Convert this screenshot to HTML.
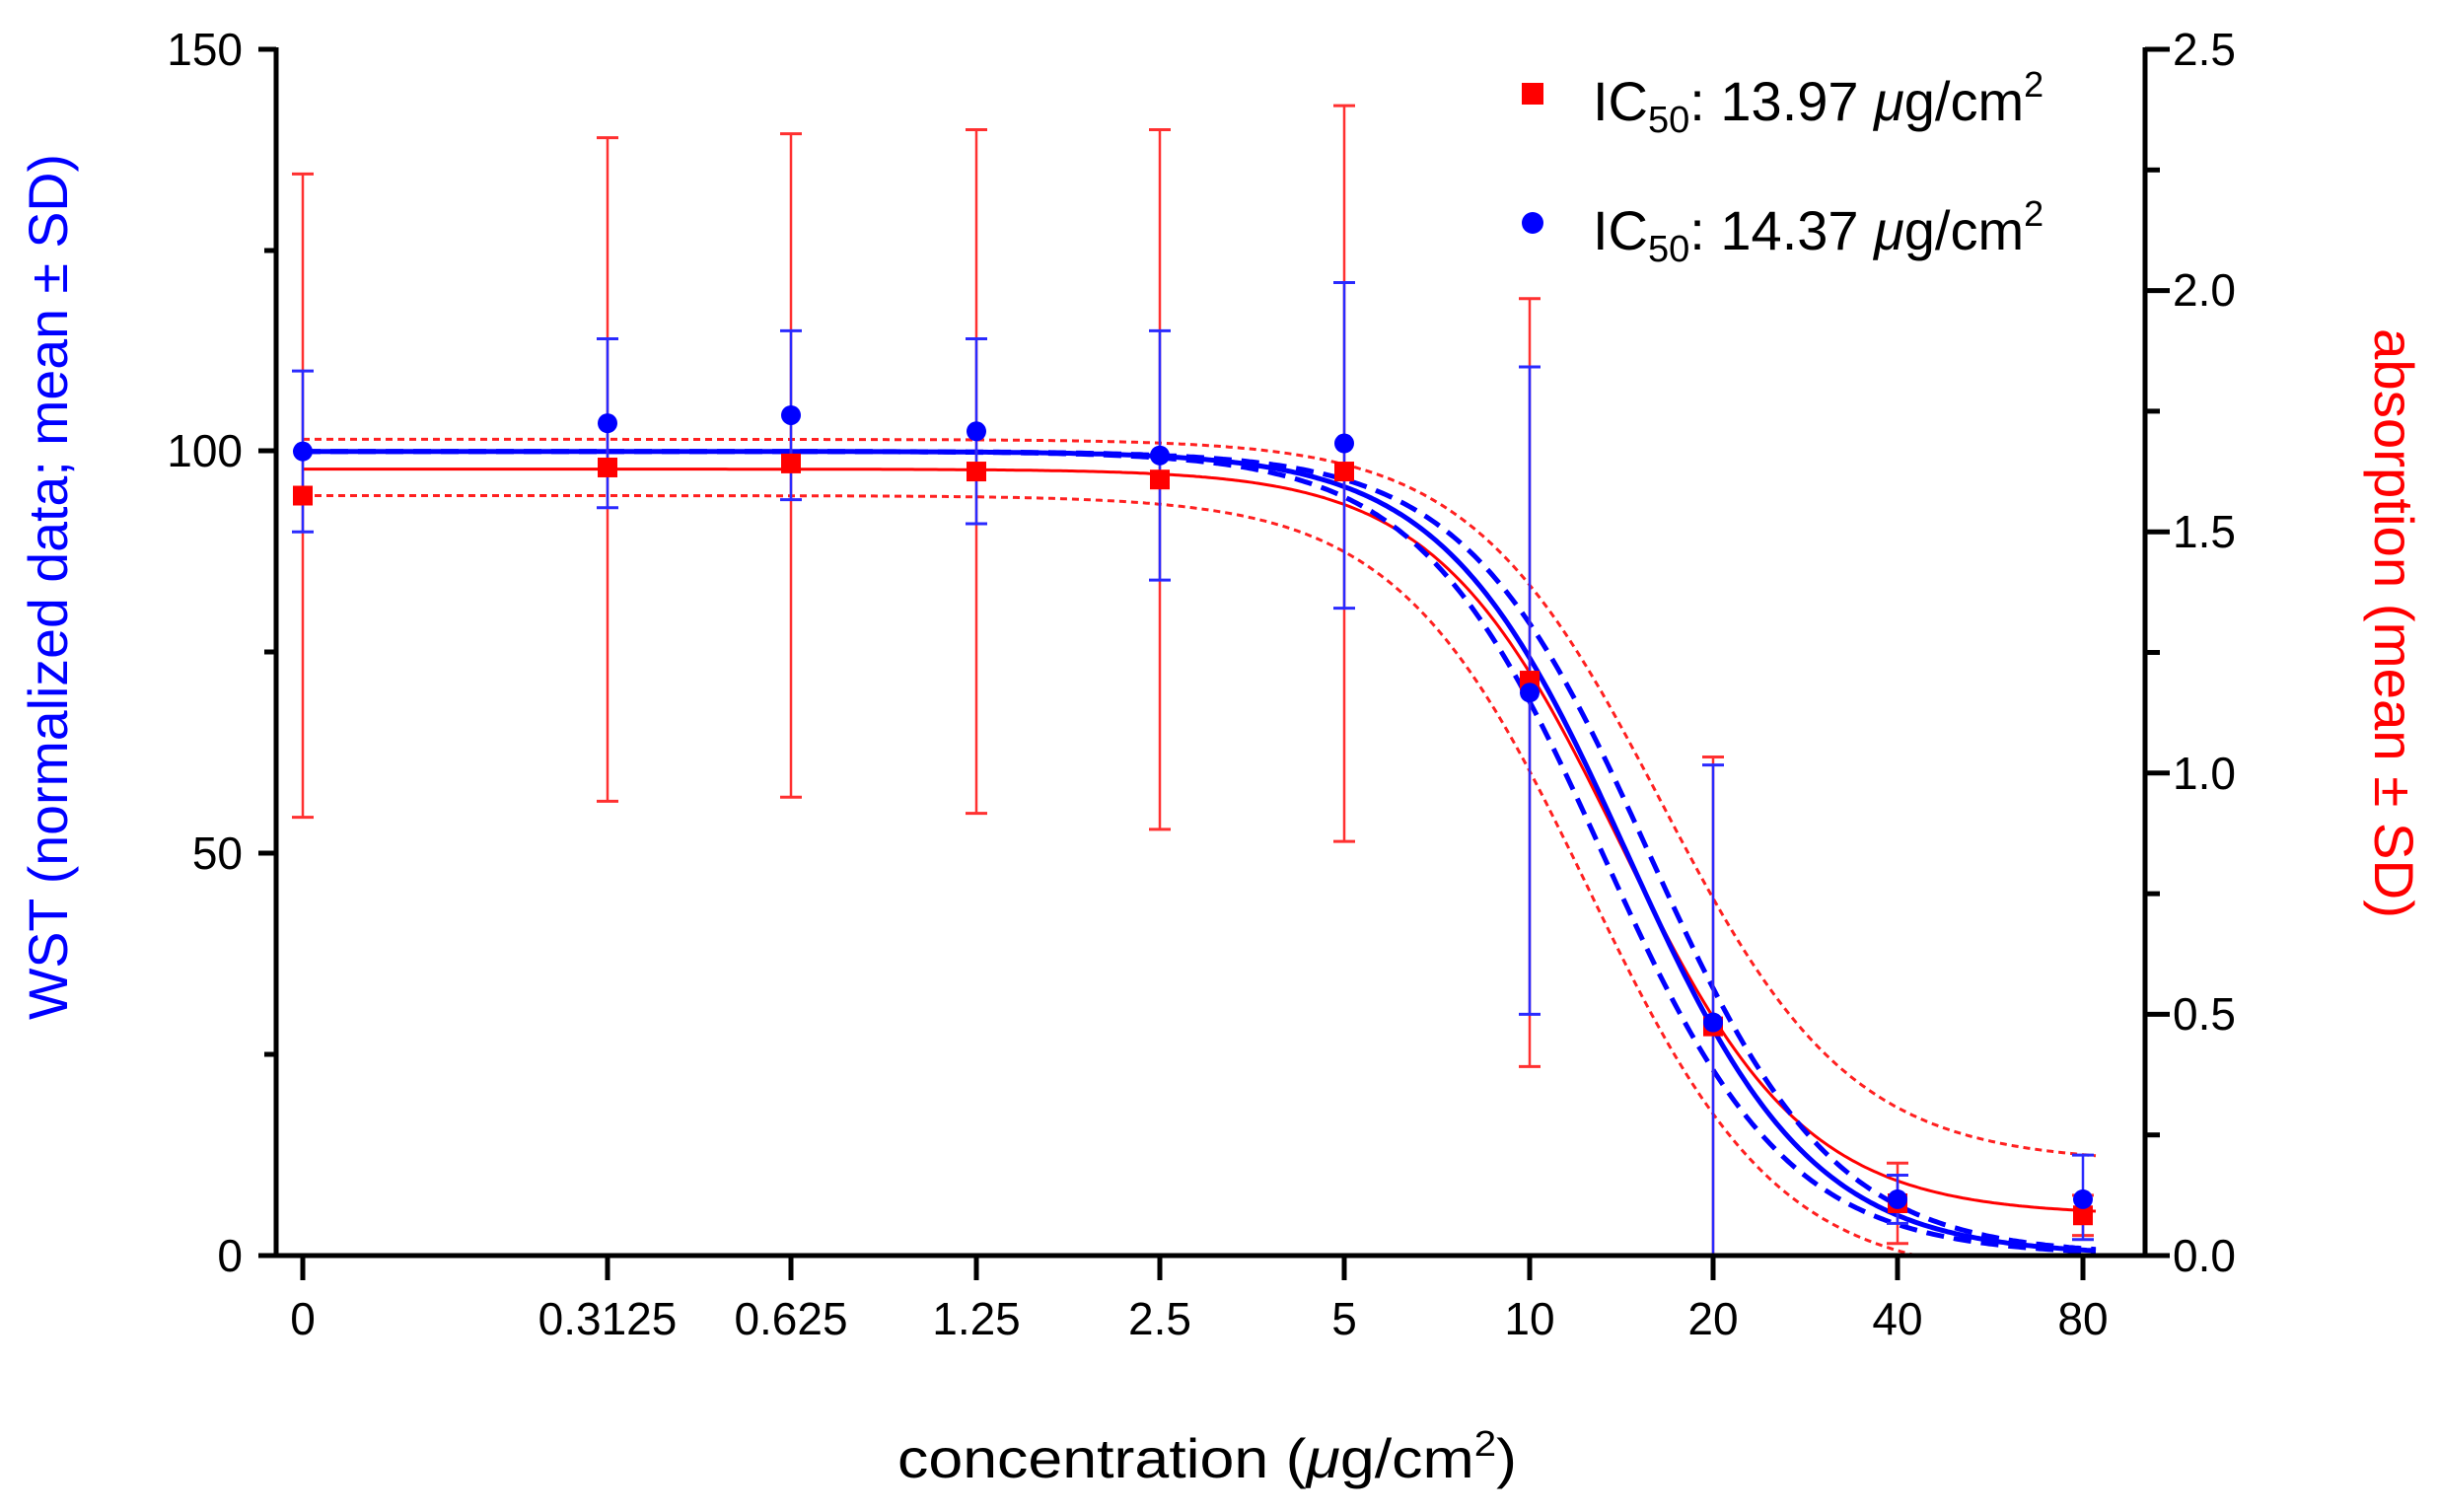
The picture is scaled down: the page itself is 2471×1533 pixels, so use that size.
<!DOCTYPE html>
<html><head><meta charset="utf-8"><style>
html,body{margin:0;padding:0;background:#fff;}
svg{display:block;}
text{font-family:"Liberation Sans",Arial,sans-serif;}
</style></head><body>
<svg id="s" width="2471" height="1533" viewBox="0 0 2471 1533" xmlns="http://www.w3.org/2000/svg">
<defs><clipPath id="cp"><rect x="280" y="40" width="1895" height="1233"/></clipPath></defs>
<g id="curves" clip-path="url(#cp)"></g>
<g id="pts"></g>
<g stroke="#000" stroke-width="5" fill="none">
<line x1="280" y1="48" x2="280" y2="1275"/>
<line x1="278" y1="1273" x2="2177" y2="1273"/>
<line x1="2175" y1="48" x2="2175" y2="1275"/>
<line x1="262" y1="50" x2="280" y2="50"/>
<line x1="262" y1="457" x2="280" y2="457"/>
<line x1="262" y1="865" x2="280" y2="865"/>
<line x1="262" y1="1273" x2="280" y2="1273"/>
<line x1="268" y1="254" x2="280" y2="254"/>
<line x1="268" y1="661" x2="280" y2="661"/>
<line x1="268" y1="1069" x2="280" y2="1069"/>
</g>
<g id="rt" stroke="#000" stroke-width="5"></g>
<g id="xt" stroke="#000" stroke-width="5"></g>
<g font-size="46" fill="#000" text-anchor="end">
<text x="246" y="66">150</text>
<text x="246" y="473">100</text>
<text x="246" y="881">50</text>
<text x="246" y="1289">0</text>
</g>
<g font-size="46" fill="#000">
<text x="2203" y="66">2.5</text>
<text x="2203" y="310">2.0</text>
<text x="2203" y="555">1.5</text>
<text x="2203" y="800">1.0</text>
<text x="2203" y="1044">0.5</text>
<text x="2203" y="1289">0.0</text>
</g>
<g font-size="46" fill="#000" text-anchor="middle">
<text x="307" y="1353">0</text>
<text x="616" y="1353">0.3125</text>
<text x="802" y="1353">0.625</text>
<text x="990" y="1353">1.25</text>
<text x="1176" y="1353">2.5</text>
<text x="1363" y="1353">5</text>
<text x="1551" y="1353">10</text>
<text x="1737" y="1353">20</text>
<text x="1924" y="1353">40</text>
<text x="2112" y="1353">80</text>
</g>
<text x="910" y="1498" font-size="56" textLength="628" lengthAdjust="spacingAndGlyphs">concentration (<tspan font-style="italic">μ</tspan>g/cm<tspan font-size="36" dy="-22">2</tspan><tspan dy="22">)</tspan></text>
<text transform="translate(68,595) rotate(-90)" text-anchor="middle" font-size="56" fill="#0000ff" textLength="878" lengthAdjust="spacingAndGlyphs">WST (normalized data; mean ± SD)</text>
<text transform="translate(2408,632) rotate(90)" text-anchor="middle" font-size="56" fill="#ff0000" textLength="598" lengthAdjust="spacingAndGlyphs">absorption (mean ± SD)</text>
<rect x="1543" y="84" width="22" height="22" fill="#ff0000"/>
<circle cx="1554" cy="226" r="11" fill="#0000ff"/>
<text x="1615" y="122" font-size="56">IC<tspan font-size="38" dy="12">50</tspan><tspan dy="-12">: 13.97 </tspan><tspan font-style="italic">μ</tspan>g/cm<tspan font-size="36" dy="-24">2</tspan></text>
<text x="1615" y="253" font-size="56">IC<tspan font-size="38" dy="12">50</tspan><tspan dy="-12">: 14.37 </tspan><tspan font-style="italic">μ</tspan>g/cm<tspan font-size="36" dy="-24">2</tspan></text>
</svg>
<script>
(function(){
var NS="http://www.w3.org/2000/svg";
function el(p,t,a){var e=document.createElementNS(NS,t);for(var k in a)e.setAttribute(k,a[k]);p.appendChild(e);return e;}
function Y(v){return 1273-v*1223/150;}
var rt=document.getElementById('rt');
for(var i=0;i<=10;i++){var y=1273-i*1223/10;el(rt,'line',{x1:2175,y1:y,x2:(i%2==0?2200:2190),y2:y});}
var xt=document.getElementById('xt');
[307,616,802,990,1176,1363,1551,1737,1924,2112].forEach(function(x){el(xt,'line',{x1:x,y1:1273,x2:x,y2:1298});});
function conc(px){return 0.3125*Math.pow(2,(px-616)/187.2);}
function path(top,bot,ic,h){var d="";for(var px=307;px<=2125;px+=3){var c=conc(px);var v=bot+(top-bot)/(1+Math.pow(c/ic,h));d+=(d?"L":"M")+px+","+Y(v).toFixed(1);}return d;}
var g=document.getElementById('curves');
el(g,'path',{d:path(101.5,11.5,16.3,2.8),stroke:'#ff2020',"stroke-width":3,fill:'none',"stroke-dasharray":"7,5"});
el(g,'path',{d:path(94.5,-3,12.4,2.8),stroke:'#ff2020',"stroke-width":3,fill:'none',"stroke-dasharray":"7,5"});
el(g,'path',{d:path(97.8,5,13.97,2.9),stroke:'#ff0000',"stroke-width":3,fill:'none'});
el(g,'path',{d:path(100,0,15.6,2.9),stroke:'#0000ff',"stroke-width":5,fill:'none',"stroke-dasharray":"18,10"});
el(g,'path',{d:path(100,0,13.1,2.9),stroke:'#0000ff',"stroke-width":5,fill:'none',"stroke-dasharray":"18,10"});
el(g,'path',{d:path(100,0,14.37,2.9),stroke:'#0000ff',"stroke-width":5,fill:'none'});
var xs=[307,616,802,990,1176,1363,1551,1737,1924,2112];
var red=[[94.5,54.5,134.5],[98,56.5,139],[98.5,57,139.5],[97.5,55,140],[96.5,53,140],[97.5,51.5,143],[71.5,23.5,119],[28.5,0,62],[6.5,1.5,11.5],[5,2.5,7.5]];
var blue=[[100,90,110],[103.5,93,114],[104.5,94,115],[102.5,91,114],[99.5,84,115],[101,80.5,121],[70,30,110.5],[29,0,61],[7,4,10],[7,2,12.5]];
var p=document.getElementById('pts');
red.forEach(function(r,i){var x=xs[i];el(p,'line',{x1:x,y1:Y(r[1]),x2:x,y2:Y(r[2]),stroke:'#ff3030',"stroke-width":2.5});
 [r[1],r[2]].forEach(function(v){el(p,'line',{x1:x-11,y1:Y(v),x2:x+11,y2:Y(v),stroke:'#ff3030',"stroke-width":3});});});
blue.forEach(function(r,i){var x=xs[i];el(p,'line',{x1:x,y1:Y(r[1]),x2:x,y2:Y(r[2]),stroke:'#2a2aff',"stroke-width":2.5});
 [r[1],r[2]].forEach(function(v){el(p,'line',{x1:x-11,y1:Y(v),x2:x+11,y2:Y(v),stroke:'#2a2aff',"stroke-width":3});});});
red.forEach(function(r,i){el(p,'rect',{x:xs[i]-10,y:Y(r[0])-10,width:20,height:20,fill:'#ff0000'});});
blue.forEach(function(r,i){el(p,'circle',{cx:xs[i],cy:Y(r[0]),r:10,fill:'#0000ff'});});
})();
</script>
</body></html>
